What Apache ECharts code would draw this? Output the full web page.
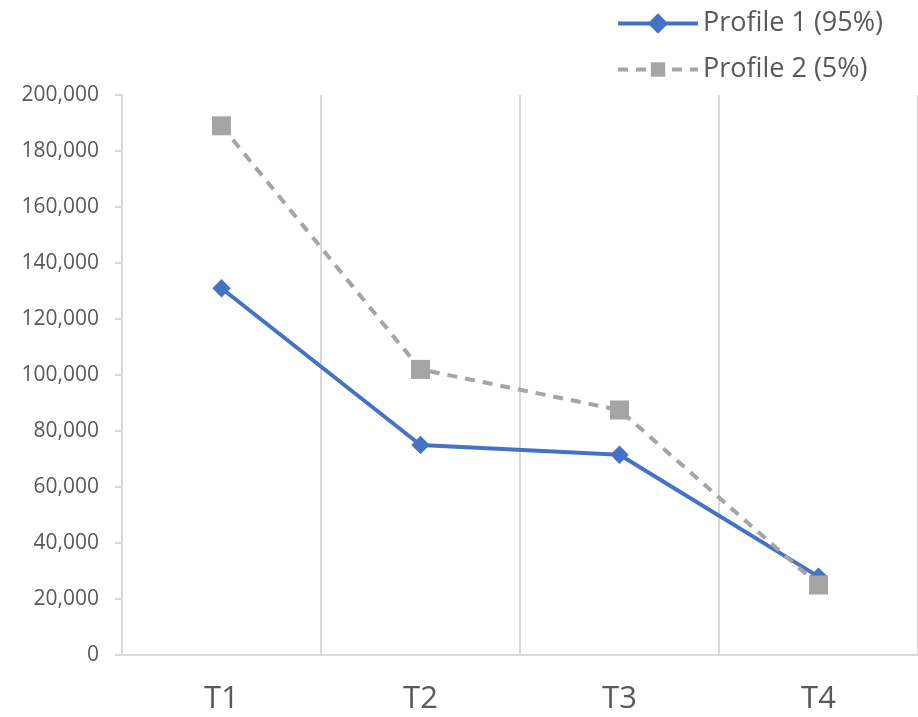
<!DOCTYPE html>
<html>
<head>
<meta charset="utf-8">
<script src="https://cdn.jsdelivr.net/npm/echarts@6/dist/echarts.min.js"></script>
<style>html,body{margin:0;padding:0;background:#fff;}#c{width:918px;height:717px;}</style>
</head>
<body>
<div id="c"></div>
<script>
const categories = ['T1', 'T2', 'T3', 'T4'];
const profile1 = [131000, 75000, 71500, 28000];
const profile2 = [189000, 102000, 87500, 25000];
const seriesNames = ['Profile 1 (95%)', 'Profile 2 (5%)'];
const yTicks = { min: 0, max: 200000, interval: 20000 };

const font = '"Open Sans", "Noto Sans", sans-serif';
const chart = echarts.init(document.getElementById('c'));
chart.setOption({
  animation: false,
  backgroundColor: '#fff',
  textStyle: { fontFamily: font },
  legend: {
    orient: 'vertical',
    right: 30,
    top: 5,
    itemWidth: 80,
    itemHeight: 18,
    itemGap: 19,
    textStyle: { fontSize: 27, color: '#595959', fontFamily: font },
    data: [
      { name: seriesNames[0], lineStyle: { width: 4 } },
      { name: seriesNames[1], lineStyle: { width: 4, type: [10, 8] } }
    ]
  },
  grid: { left: 122, right: 0, top: 95, bottom: 62 },
  xAxis: {
    type: 'category',
    data: categories,
    boundaryGap: true,
    axisLine: { show: true, lineStyle: { color: '#d9d9d9', width: 2 } },
    axisTick: { show: false },
    splitLine: { show: true, lineStyle: { color: '#d9d9d9', width: 2 } },
    axisLabel: { fontSize: 31, color: '#595959', margin: 29, fontFamily: font }
  },
  yAxis: {
    type: 'value',
    min: yTicks.min, max: yTicks.max, interval: yTicks.interval,
    axisLine: { show: true, lineStyle: { color: '#d9d9d9', width: 2 } },
    axisTick: { show: true, length: 7, lineStyle: { color: '#d9d9d9', width: 2 } },
    splitLine: { show: false },
    axisLabel: {
      fontSize: 21, color: '#595959', margin: 23, fontFamily: font,
      formatter: v => v.toLocaleString('en-US')
    }
  },
  series: [
    {
      name: seriesNames[0], type: 'line', data: profile1,
      color: '#4472C4',
      lineStyle: { width: 4, color: '#4472C4' },
      symbol: 'rect', symbolRotate: 45, symbolSize: 13,
      itemStyle: { color: '#4472C4' }
    },
    {
      name: seriesNames[1], type: 'line', data: profile2,
      color: '#A5A5A5',
      lineStyle: { width: 4, color: '#A5A5A5', type: [10, 8] },
      symbol: 'rect', symbolSize: 19,
      itemStyle: { color: '#A5A5A5' }
    }
  ]
});
</script>
</body>
</html>
